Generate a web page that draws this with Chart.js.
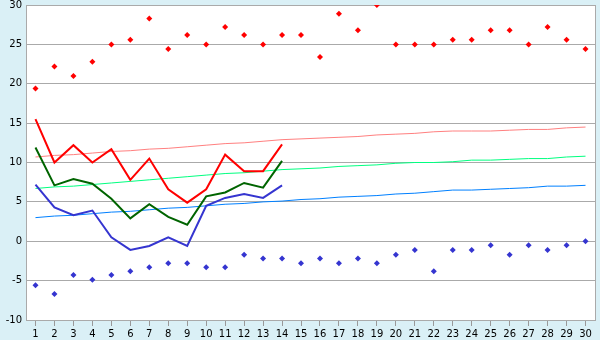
<!DOCTYPE html>
<html>
<head>
<meta charset="utf-8">
<script src="https://cdn.jsdelivr.net/npm/chart.js@4"></script>
<style>
  html, body { margin: 0; padding: 0; background: #daf0f6; }
  #c { display: block; }
</style>
</head>
<body>
<canvas id="c" width="600" height="340"></canvas>
<script>
const days = ["1","2","3","4","5","6","7","8","9","10","11","12","13","14","15","16","17","18","19","20","21","22","23","24","25","26","27","28","29","30"];

const dailyMax  = [15.5, 10.0, 12.2, 10.0, 11.7, 7.8, 10.5, 6.6, 4.9, 6.6, 11.0, 8.9, 8.9, 12.3];
const dailyMean = [11.9, 7.1, 7.9, 7.3, 5.4, 2.9, 4.7, 3.1, 2.1, 5.7, 6.2, 7.4, 6.8, 10.2];
const dailyMin  = [7.2, 4.3, 3.3, 3.9, 0.5, -1.1, -0.6, 0.5, -0.6, 4.5, 5.5, 6.0, 5.5, 7.1];

const recordMax = [19.4, 22.2, 21.0, 22.8, 25.0, 25.6, 28.3, 24.4, 26.2, 25.0, 27.2, 26.2, 25.0, 26.2, 26.2, 23.4, 28.9, 26.8, 30.0, 25.0, 25.0, 25.0, 25.6, 25.6, 26.8, 26.8, 25.0, 27.2, 25.6, 24.4];
const recordMin = [-5.6, -6.7, -4.3, -4.9, -4.3, -3.8, -3.3, -2.8, -2.8, -3.3, -3.3, -1.7, -2.2, -2.2, -2.8, -2.2, -2.8, -2.2, -2.8, -1.7, -1.1, -3.8, -1.1, -1.1, -0.5, -1.7, -0.5, -1.1, -0.5, 0.0];

const normalMax  = [10.7, 10.9, 11.0, 11.2, 11.4, 11.5, 11.7, 11.8, 12.0, 12.2, 12.4, 12.5, 12.7, 12.9, 13.0, 13.1, 13.2, 13.3, 13.5, 13.6, 13.7, 13.9, 14.0, 14.0, 14.0, 14.1, 14.2, 14.2, 14.4, 14.5];
const normalMean = [6.7, 6.9, 7.0, 7.2, 7.4, 7.6, 7.8, 8.0, 8.2, 8.4, 8.6, 8.7, 8.9, 9.1, 9.2, 9.3, 9.5, 9.6, 9.7, 9.9, 10.0, 10.0, 10.1, 10.3, 10.3, 10.4, 10.5, 10.5, 10.7, 10.8];
const normalMin  = [3.0, 3.2, 3.3, 3.5, 3.7, 3.8, 4.0, 4.2, 4.3, 4.5, 4.7, 4.8, 5.0, 5.1, 5.3, 5.4, 5.6, 5.7, 5.8, 6.0, 6.1, 6.3, 6.5, 6.5, 6.6, 6.7, 6.8, 7.0, 7.0, 7.1];

const yMin = -10, yMax = 30, yStep = 5;

const plotBg = {
  id: 'plotBg',
  beforeDraw(chart) {
    const a = chart.chartArea, ctx = chart.ctx;
    ctx.save();
    ctx.fillStyle = '#ffffff';
    ctx.fillRect(a.left, a.top, a.right - a.left, a.bottom - a.top);
    ctx.strokeStyle = '#aaaaaa';
    ctx.lineWidth = 1;
    ctx.beginPath();
    ctx.moveTo(Math.round(a.right) + 0.5, a.top);
    ctx.lineTo(Math.round(a.right) + 0.5, a.bottom);
    ctx.stroke();
    ctx.restore();
  }
};

function lineDs(data, color, width, order) {
  return { data, borderColor: color, backgroundColor: color, borderWidth: width,
           pointRadius: 0, pointHoverRadius: 0, tension: 0, fill: false, order };
}
function dotDs(data, color) {
  return { data, showLine: false, borderColor: color, backgroundColor: color, borderWidth: 0,
           pointStyle: 'rectRot', pointRadius: 3, pointHoverRadius: 3, order: 0 };
}

new Chart(document.getElementById('c'), {
  type: 'line',
  data: {
    labels: days,
    datasets: [
      dotDs(recordMax, '#ff0000'),
      dotDs(recordMin, '#3535d0'),
      lineDs(dailyMax, '#ff0000', 2, 1),
      lineDs(dailyMean, '#006400', 2, 1),
      lineDs(dailyMin, '#3535d0', 2, 1),
      lineDs(normalMax, '#ff8080', 1, 2),
      lineDs(normalMean, '#00ff80', 1, 2),
      lineDs(normalMin, '#0080ff', 1, 2)
    ]
  },
  options: {
    responsive: false,
    animation: false,
    events: [],
    layout: { padding: { top: 5, right: 5, left: 0, bottom: 0 } },
    plugins: { legend: { display: false }, tooltip: { enabled: false } },
    scales: {
      x: {
        offset: true,
        grid: { offset: false, drawOnChartArea: false, drawTicks: true, tickLength: 6, color: '#999999' },
        border: { display: true, color: '#aaaaaa' },
        ticks: { color: '#000000', font: { family: 'DejaVu Sans', size: 10 }, padding: 2, maxRotation: 0, autoSkip: false },
        afterFit(s) { s.height = 20; s.paddingLeft = 0; s.paddingRight = 0; }
      },
      y: {
        min: yMin, max: yMax,
        grid: { color: '#aaaaaa', drawTicks: false },
        border: { display: true, color: '#aaaaaa' },
        ticks: { stepSize: yStep, color: '#000000', font: { family: 'DejaVu Sans', size: 10 }, padding: 4 },
        afterFit(s) { s.width = 26; s.paddingTop = 0; s.paddingBottom = 0; }
      }
    }
  },
  plugins: [plotBg]
});
</script>
</body>
</html>
